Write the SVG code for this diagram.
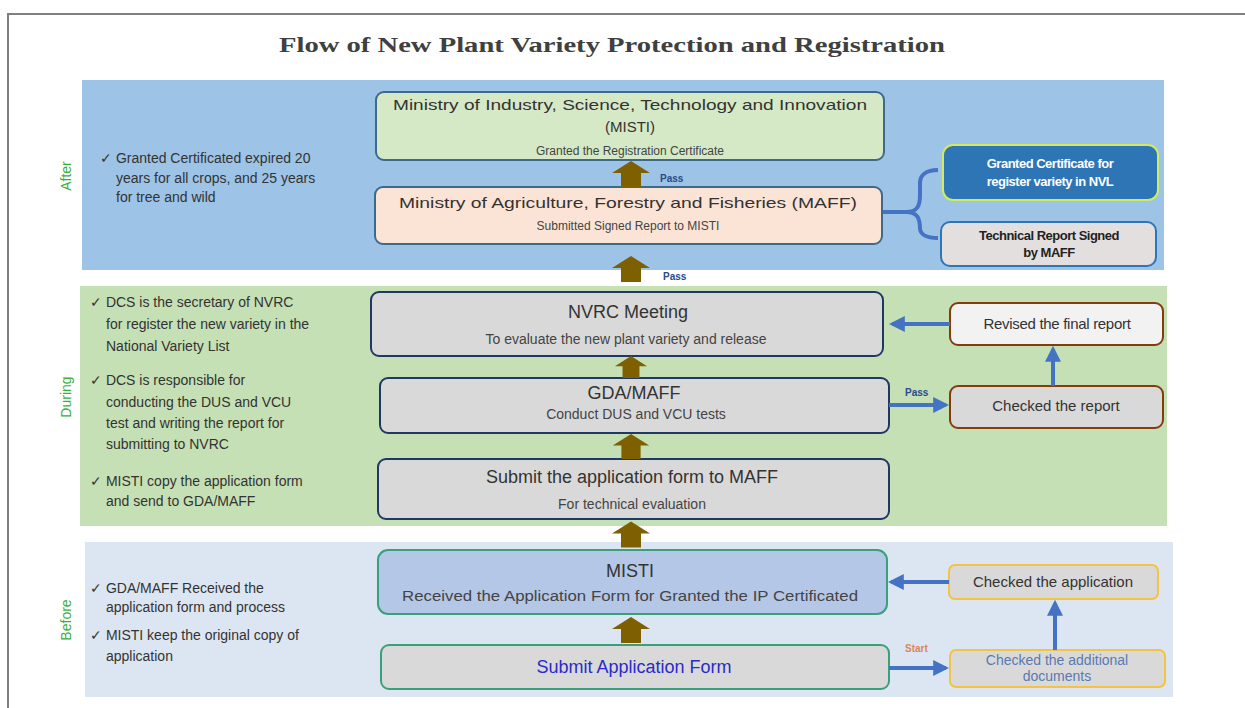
<svg xmlns="http://www.w3.org/2000/svg" width="1245" height="708" viewBox="0 0 1245 708">
<defs>
<style>
text{font-family:"Liberation Sans",Arial,sans-serif;fill:#333}
.title{font-family:"Liberation Serif","Times New Roman",serif;font-weight:bold;font-size:21px;fill:#404040}
.side{font-size:14px;fill:#3cae3c}
.bul{font-size:14px;fill:#333}
.big{font-size:18px;fill:#333}
.mid{font-size:15px;fill:#333}
.sm{font-size:12px;fill:#444}
.med{font-size:14px;fill:#444}
.lbl{font-size:10px;font-weight:bold;fill:#2a4a8a}
.node{stroke-width:2}
.blue{stroke:#4472c4;stroke-width:4;fill:none}
</style>
<marker id="ah" viewBox="0 0 10 10" refX="8" refY="5" markerWidth="4" markerHeight="4" orient="auto" markerUnits="strokeWidth">
<path d="M0,0 L10,5 L0,10 z" fill="#4472c4"/>
</marker>
<symbol id="up" viewBox="0 0 38 26" overflow="visible">
<path d="M0,12 L19,0 L38,12 L29,12 L29,26 L9,26 L9,12 z" fill="#7f6000"/>
</symbol>
</defs>
<rect width="1245" height="708" fill="#ffffff"/>
<path d="M8,708 L8,14 L1245,14" fill="none" stroke="#808080" stroke-width="2"/>
<text class="title" x="612" y="52" text-anchor="middle" textLength="666" lengthAdjust="spacingAndGlyphs">Flow of New Plant Variety Protection and Registration</text>

<g id="bands">
<rect x="82" y="80" width="1082" height="190" fill="#9dc3e6"/>
<rect x="80" y="286" width="1087" height="240" fill="#c5e0b4"/>
<rect x="85" y="542" width="1088" height="155" fill="#dce6f2"/>
<text class="side" transform="translate(71,176) rotate(-90)" text-anchor="middle">After</text>
<text class="side" transform="translate(71,397) rotate(-90)" text-anchor="middle">During</text>
<text class="side" transform="translate(71,620) rotate(-90)" text-anchor="middle">Before</text>
</g>

<g id="notes">
<text class="bul" x="100" y="163">✓ Granted Certificated expired 20</text>
<text class="bul" x="116" y="183">years for all crops, and 25 years</text>
<text class="bul" x="116" y="202">for tree and wild</text>
<text class="bul" x="90" y="307">✓ DCS is the secretary of NVRC</text>
<text class="bul" x="106" y="329">for register the new variety in the</text>
<text class="bul" x="106" y="351">National Variety List</text>
<text class="bul" x="90" y="385">✓ DCS is responsible for</text>
<text class="bul" x="106" y="407">conducting the DUS and VCU</text>
<text class="bul" x="106" y="428">test and writing the report for</text>
<text class="bul" x="106" y="449">submitting to NVRC</text>
<text class="bul" x="90" y="486">✓ MISTI copy the application form</text>
<text class="bul" x="106" y="506">and send to GDA/MAFF</text>
<text class="bul" x="90" y="593">✓ GDA/MAFF Received the</text>
<text class="bul" x="106" y="612">application form and process</text>
<text class="bul" x="90" y="640">✓ MISTI keep the original copy of</text>
<text class="bul" x="106" y="661">application</text>
</g>

<g id="n-misti-top">
<rect class="node" x="376" y="92" width="508" height="68" rx="8" fill="#d6e9c6" stroke="#3b6a8a"/>
<text class="mid" x="630" y="110" text-anchor="middle" textLength="474" lengthAdjust="spacingAndGlyphs">Ministry of Industry, Science, Technology and Innovation</text>
<text class="mid" x="630" y="132" text-anchor="middle">(MISTI)</text>
<text class="sm" x="630" y="155" text-anchor="middle">Granted the Registration Certificate</text>
</g>
<g id="n-maff">
<rect class="node" x="375" y="187" width="507" height="57" rx="8" fill="#fbe4d5" stroke="#3b6a8a"/>
<text class="mid" x="628" y="208" text-anchor="middle" textLength="458" lengthAdjust="spacingAndGlyphs">Ministry of Agriculture, Forestry and Fisheries (MAFF)</text>
<text class="sm" x="628" y="230" text-anchor="middle">Submitted Signed Report to MISTI</text>
</g>
<g id="n-nvl">
<rect class="node" x="943" y="145" width="215" height="55" rx="10" fill="#2e75b6" stroke="#d4ea5e" stroke-width="3"/>
<text x="1050" y="168" text-anchor="middle" font-size="13" font-weight="bold" fill="#ffffff" style="fill:#ffffff" letter-spacing="-0.5">Granted Certificate for</text>
<text x="1050" y="186" text-anchor="middle" font-size="13" font-weight="bold" fill="#ffffff" style="fill:#ffffff" letter-spacing="-0.5">register variety in NVL</text>
</g>
<g id="n-tech">
<rect class="node" x="941" y="222" width="215" height="44" rx="9" fill="#e4dfdf" stroke="#2e75b6"/>
<text x="1049" y="240" text-anchor="middle" font-size="13" font-weight="bold" fill="#222" style="fill:#222" letter-spacing="-0.5">Technical Report Signed</text>
<text x="1049" y="257" text-anchor="middle" font-size="13" font-weight="bold" fill="#222" style="fill:#222" letter-spacing="-0.5">by MAFF</text>
</g>

<g id="n-nvrc">
<rect class="node" x="371" y="292" width="512" height="64" rx="8" fill="#d9d9d9" stroke="#1f3864"/>
<text class="big" x="628" y="318" text-anchor="middle">NVRC Meeting</text>
<text class="med" x="626" y="344" text-anchor="middle">To evaluate the new plant variety and release</text>
</g>
<g id="n-gda">
<rect class="node" x="380" y="378" width="509" height="55" rx="8" fill="#d9d9d9" stroke="#1f3864"/>
<text class="big" x="634" y="399" text-anchor="middle">GDA/MAFF</text>
<text class="med" x="636" y="419" text-anchor="middle">Conduct DUS and VCU tests</text>
</g>
<g id="n-submit-maff">
<rect class="node" x="378" y="459" width="511" height="60" rx="8" fill="#d9d9d9" stroke="#1f3864"/>
<text class="big" x="632" y="483" text-anchor="middle">Submit the application form to MAFF</text>
<text class="med" x="632" y="509" text-anchor="middle">For technical evaluation</text>
</g>
<g id="n-revised">
<rect class="node" x="950" y="303" width="213" height="42" rx="8" fill="#f2f2f2" stroke="#843c0c"/>
<text class="mid" x="1057" y="329" text-anchor="middle" letter-spacing="-0.3">Revised the final report</text>
</g>
<g id="n-checked-report">
<rect class="node" x="950" y="386" width="213" height="42" rx="8" fill="#d9d9d9" stroke="#843c0c"/>
<text class="mid" x="1056" y="411" text-anchor="middle">Checked the report</text>
</g>

<g id="n-misti">
<rect class="node" x="378" y="550" width="509" height="64" rx="10" fill="#b4c7e7" stroke="#3aa07a"/>
<text class="big" x="630" y="577" text-anchor="middle">MISTI</text>
<text class="med" x="630" y="601" text-anchor="middle" textLength="456" lengthAdjust="spacingAndGlyphs">Received the Application Form for Granted the IP Certificated</text>
</g>
<g id="n-submit-app">
<rect class="node" x="381" y="645" width="508" height="44" rx="8" fill="#d9d9d9" stroke="#3aa07a"/>
<text class="big" x="634" y="673" text-anchor="middle" fill="#2a2acc" style="fill:#2a2acc">Submit Application Form</text>
</g>
<g id="n-checked-app">
<rect class="node" x="949" y="565" width="209" height="34" rx="6" fill="#d9d9d9" stroke="#f5c342"/>
<text class="mid" x="1053" y="587" text-anchor="middle" fill="#333" style="fill:#333">Checked the application</text>
</g>
<g id="n-checked-docs">
<rect class="node" x="950" y="650" width="215" height="37" rx="6" fill="#d9d9d9" stroke="#f5c342"/>
<text class="med" x="1057" y="665" text-anchor="middle" style="fill:#5b7ab0">Checked the additional</text>
<text class="med" x="1057" y="681" text-anchor="middle" style="fill:#5b7ab0">documents</text>
</g>

<g id="connectors">
<use href="#up" x="612" y="161" width="38" height="26"/>
<use href="#up" x="612" y="250" width="38" height="38"/>
<use href="#up" x="612" y="356" width="38" height="22"/>
<use href="#up" x="612" y="434" width="38" height="25"/>
<use href="#up" x="612" y="519" width="38" height="31"/>
<use href="#up" x="612" y="615" width="38" height="30"/>
<text class="lbl" x="660" y="182">Pass</text>
<text class="lbl" x="663" y="280">Pass</text>
<text class="lbl" x="905" y="396">Pass</text>
<text x="905" y="652" font-size="10" font-weight="bold" style="fill:#d9875a">Start</text>
<path d="M883,212 L906,212 C918,212 920,205 920,195 L920,183 C920,175 926,170 938,170 M906,212 C918,212 920,219 920,229 L920,228 C920,234 926,238 938,238" fill="none" stroke="#4472c4" stroke-width="4"/>
<line class="blue" x1="950" y1="324" x2="892" y2="324" marker-end="url(#ah)"/>
<line class="blue" x1="1053" y1="386" x2="1053" y2="349" marker-end="url(#ah)"/>
<line class="blue" x1="889" y1="405" x2="946" y2="405" marker-end="url(#ah)"/>
<line class="blue" x1="949" y1="582" x2="891" y2="582" marker-end="url(#ah)"/>
<line class="blue" x1="1055" y1="650" x2="1055" y2="603" marker-end="url(#ah)"/>
<line class="blue" x1="889" y1="668" x2="946" y2="668" marker-end="url(#ah)"/>
</g>
</svg>
